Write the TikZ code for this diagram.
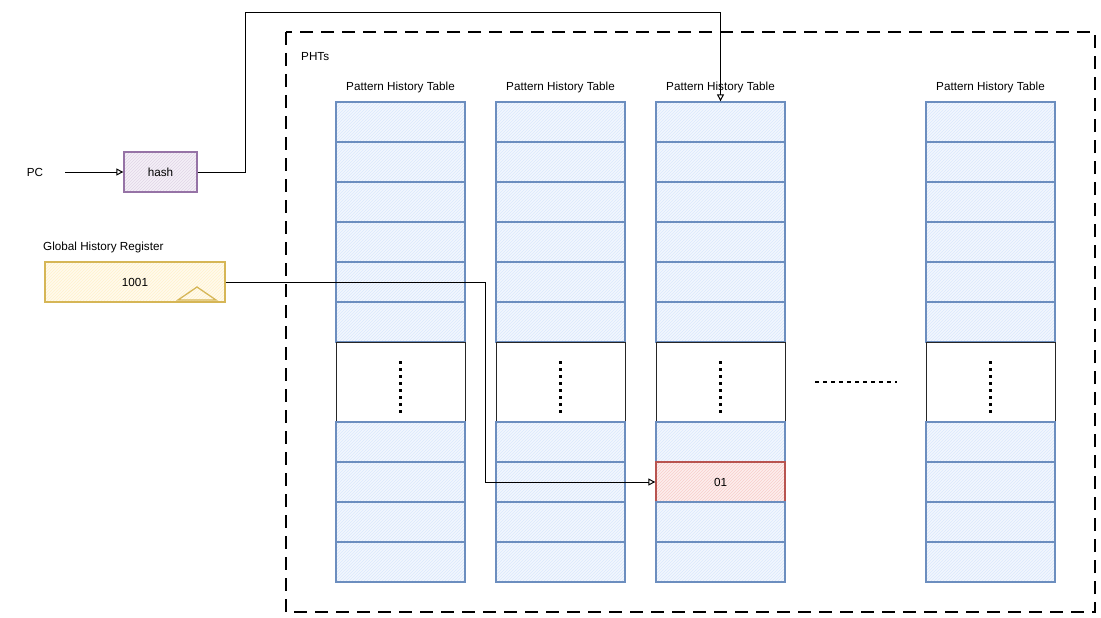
\documentclass[tikz,border=0pt]{standalone}
\usepackage{fontspec}
\setmainfont{Liberation Sans}
\usetikzlibrary{arrows.meta,patterns}
\definecolor{bstroke}{HTML}{6C8EBF}
\definecolor{bfill}{HTML}{DAE8FC}
\definecolor{rstroke}{HTML}{B85450}
\definecolor{rfill}{HTML}{F8CECC}
\definecolor{ystroke}{HTML}{D6B656}
\definecolor{yfill}{HTML}{FFF2CC}
\definecolor{pstroke}{HTML}{9673A6}
\definecolor{pfill}{HTML}{E1D5E7}
\tikzset{
  lbl/.style={font=\fontsize{11.7}{14}\selectfont, inner sep=0pt},
  cellbox/.style={draw=bstroke, line width=1.3pt, minimum width=129pt, minimum height=40pt, inner sep=0pt,
     preaction={fill=bfill!35}, pattern=north east lines, pattern color=bfill, font=\fontsize{11.7}{14}\selectfont},
  redbox/.style={draw=rstroke, line width=1.3pt, minimum width=129pt, minimum height=40pt, inner sep=0pt,
     preaction={fill=rfill!35}, pattern=north east lines, pattern color=rfill, font=\fontsize{11.7}{14}\selectfont},
  gapbox/.style={draw=black!85, line width=1pt, minimum width=129pt, minimum height=80pt, inner sep=0pt},
  vdots/.style={line width=2.6pt, dash pattern=on 3pt off 4pt},
  conn/.style={draw=black, line width=1pt},
  tip/.style={-{Triangle[open,length=7pt,width=7pt]}},
}
\begin{document}
\begin{tikzpicture}[x=1pt,y=-1pt]
\useasboundingbox (0,0) rectangle (1101,618);
% PHT frame
\draw[line width=1.2pt, dash pattern=on 13pt off 8pt] (286,32) rectangle (1095,612);
\node[lbl, anchor=west] (phts) at (301,57) {PHTs};
% tables
\foreach \t/\x in {1/400.5, 2/560.5, 3/720.5, 4/990.5} {
  \node[lbl] (title\t) at (\x,87) {Pattern History Table};
  \foreach \k/\yy in {0/122,1/162,2/202,3/242,4/282,5/322} {
    \node[cellbox] (t\t c\k) at (\x,\yy) {};
  }
  \node[gapbox] (t\t gap) at (\x,382) {};
  \draw[vdots] (\x,361) -- (\x,413);
}
\foreach \t/\x in {1/400.5, 2/560.5, 4/990.5} {
  \foreach \k/\yy in {6/442,7/482,8/522,9/562} {
    \node[cellbox] (t\t c\k) at (\x,\yy) {};
  }
}
\node[cellbox] (t3c6) at (720.5,442) {};
\node[redbox] (t3c7) at (720.5,482) {01};
\node[cellbox] (t3c8) at (720.5,522) {};
\node[cellbox] (t3c9) at (720.5,562) {};
% horizontal dots between tables
\draw[line width=2.6pt, dash pattern=on 4pt off 4pt] (815,382) -- (897,382);
% PC and hash
\node[lbl] (pc) at (35,172) {PC};
\node[draw=pstroke, line width=1.3pt, minimum width=73pt, minimum height=40pt, inner sep=0pt,
  preaction={fill=pfill!35}, pattern=north east lines, pattern color=pfill, lbl] (hash) at (160.5,172) {hash};
\draw[conn, tip] (65,172) -- (hash.west);
\coordinate (h1) at (245,172);
\coordinate (h2) at (245,13);
\coordinate (h3) at (720.5,13);
\draw[conn, tip] (hash.east) -- (h1) -- (h2) -- (h3) -- (t3c0.north);
% GHR
\node[lbl, anchor=west] (ghrlabel) at (43,247) {Global History Register};
\node[draw=ystroke, line width=1.3pt, minimum width=180pt, minimum height=40pt, inner sep=0pt,
  preaction={fill=yfill!35}, pattern=north east lines, pattern color=yfill] (ghr) at (135,282) {};
\node[lbl] (ghrval) at (135,282) {1001};
\draw[ystroke, line width=1.3pt] (178,300) -- (197,287) -- (216,300) -- cycle;
\coordinate (g1) at (485,282);
\coordinate (g2) at (485,482);
\draw[conn, tip] (ghr.east) -- (g1) -- (g2) -- (t3c7.west);
\end{tikzpicture}
\end{document}
